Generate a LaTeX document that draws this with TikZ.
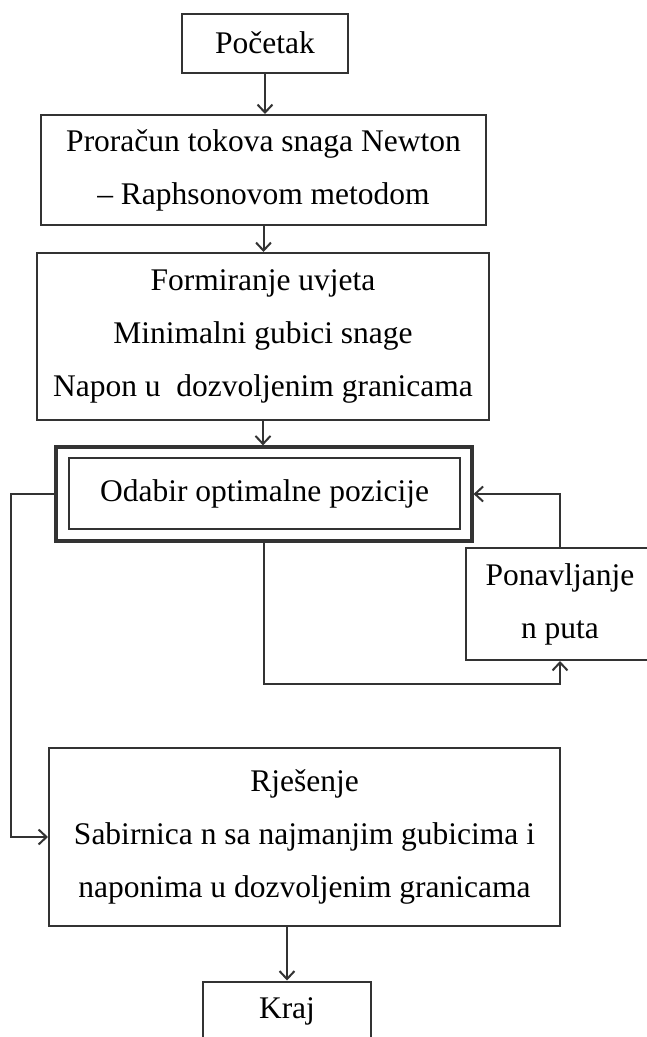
\documentclass[tikz,border=0pt]{standalone}
\usepackage{fontspec}
\setmainfont{Liberation Serif}
\usetikzlibrary{arrows.meta}

\begin{document}
\begin{tikzpicture}[x=1pt, y=-1pt, line width=2pt,
  font=\fontsize{31.5}{53}\selectfont,
  box/.style={draw=black!80, align=center, inner sep=0pt},
  arr/.style={draw=black!80, -{Straight Barb[length=8pt,width=15pt]}}]
  \useasboundingbox (0,0) rectangle (646,1037);
  %% main column
  \node[box, minimum width=166pt, minimum height=59pt] (start) at (265,43) {Početak};
  \node[box, minimum width=445pt, minimum height=110pt] (flow) at (263.5,170)
    {Proračun tokova snaga Newton\\– Raphsonovom metodom};
  \node[box, minimum width=452pt, minimum height=167pt] (cond) at (263,336.5)
    {Formiranje uvjeta\\Minimalni gubici snage\\Napon u\ \ dozvoljenim granicama};
  %% double box
  \node[box, line width=3.2pt, minimum width=416pt, minimum height=94pt] (odabir) at (264,494) {};
  \node[box, minimum width=391pt, minimum height=71pt] (odabirin) at (264.5,493.5)
    {Odabir optimalne pozicije};
  \node[box, minimum width=188pt, minimum height=112pt] (repeat) at (560,604)
    {Ponavljanje\\n puta};
  \node[box, minimum width=511pt, minimum height=178pt] (rjesenje) at (304.5,837)
    {Rješenje\\Sabirnica n sa najmanjim gubicima i\\naponima u dozvoljenim granicama};
  \node[box, minimum width=168pt, minimum height=59pt] (kraj) at (287,1011) {Kraj};
  %% connectors
  \draw[arr] (start.south) -- (start.south |- flow.north);
  \draw[arr] (flow.south) -- (flow.south |- cond.north);
  \draw[arr] (cond.south) -- (cond.south |- odabir.north);
  \draw[arr] (odabir.west) -- ++(-43,0) |- (rjesenje.west);
  \draw[arr] (odabir.south) -- ++(0,141) -| (repeat.south);
  \draw[arr] (repeat.north) |- (odabir.east);
  \draw[arr] (kraj.north |- rjesenje.south) -- (kraj.north);
\end{tikzpicture}
\end{document}
